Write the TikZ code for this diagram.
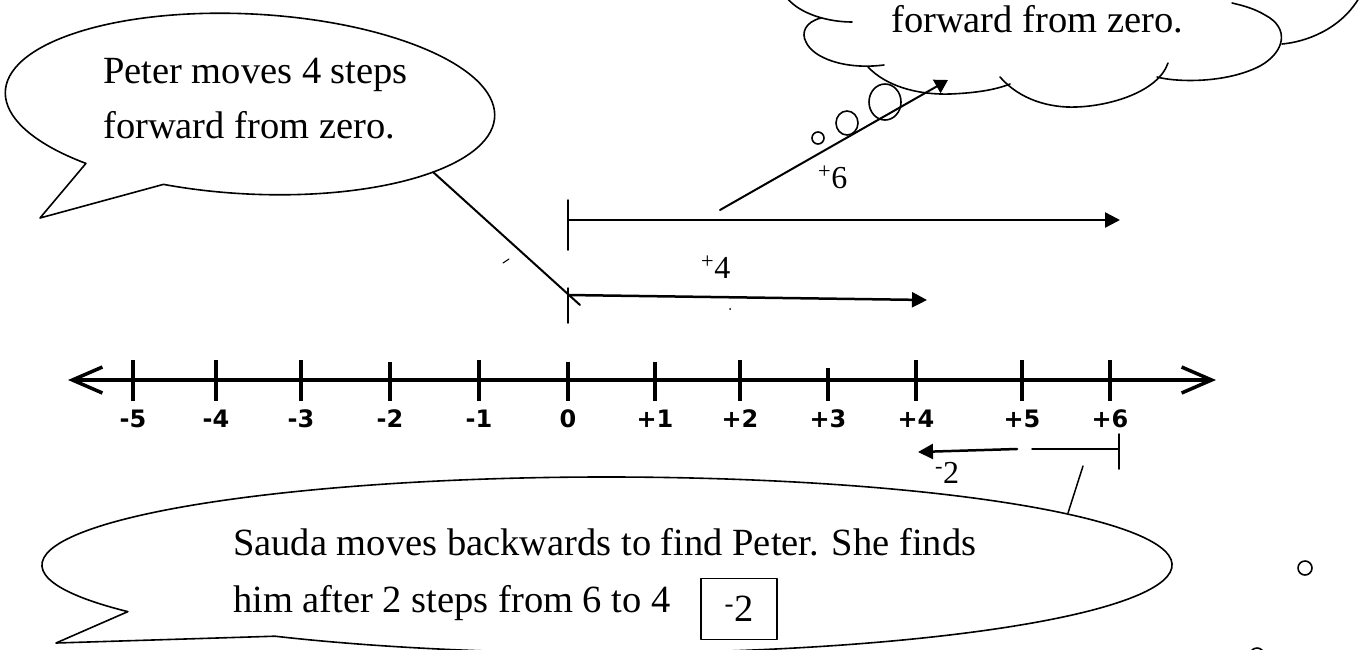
\documentclass[tikz,border=0pt]{standalone}
\usepackage{fontspec}
\setmainfont{Liberation Serif}
\newfontfamily\axisfont{DejaVu Sans}
\usetikzlibrary{arrows.meta}

\begin{document}
\begin{tikzpicture}[x=1pt, y=-1pt, line cap=round, line join=round,
  bubble/.style={line width=1.6pt},
  say/.style={inner sep=0pt, anchor=base west, font=\fontsize{38.5}{55}\selectfont},
  steplab/.style={inner sep=0pt, anchor=base west, font=\fontsize{32}{32}\selectfont},
  axlab/.style={inner sep=0pt, anchor=base, font=\axisfont\bfseries\fontsize{24}{24}\selectfont},
  jump/.style={line width=2.5pt, -{Triangle[length=15pt,width=15pt]}},
  leader/.style={line width=2pt}]
  \useasboundingbox (0,0) rectangle (1359,649);

  % Peter's speech bubble
  \coordinate (ptip) at (40,218);
  \begin{scope}[shift={(250,104)}, rotate=-3]
    \draw[bubble] (131:245 and 90) arc[start angle=131, end angle=469.6, x radius=245, y radius=90] -- (ptip) -- cycle;
  \end{scope}
  \node[say] (peter1) at (103,83) {Peter moves 4 steps};
  \node[say] (peter2) at (103,138) {forward from zero.};

  % cloud
  \draw[bubble] (787,-2) .. controls (800,14) and (828,22) .. (852,22);
  \draw[bubble] (821,18) .. controls (805,22) and (801,33) .. (806,42) .. controls (813,58) and (845,70) .. (884,65);
  \draw[bubble] (868,67) .. controls (885,85) and (915,95) .. (950,94) .. controls (975,93) and (995,90) .. (1010,84);
  \draw[bubble] (1000,77) .. controls (1020,100) and (1050,108) .. (1076,107) .. controls (1110,106) and (1158,92) .. (1168,63);
  \draw[bubble] (1157,77) .. controls (1175,82) and (1225,84) .. (1260,66) .. controls (1285,52) and (1290,28) .. (1265,15) .. controls (1255,9) and (1245,6) .. (1232,3);
  \draw[bubble] (1282,44) .. controls (1305,42) and (1340,30) .. (1359,-2);
  \node[say] (cloudtxt) at (891,32) {forward from zero.};
  \draw[bubble] (818,138) circle[radius=6];
  \draw[bubble] (847,123) ellipse[x radius=11, y radius=12];
  \draw[bubble] (885,102) ellipse[x radius=16, y radius=18];

  % +6 jump
  \coordinate (z6) at (568,220);
  \coordinate (e6) at (1120,220);
  \draw[line width=1.5pt] (568,200) -- (568,250);
  \draw[jump] (z6) -- (e6);
  \coordinate (c6a) at (720,210);
  \coordinate (c6b) at (948,80);
  \draw[leader, -{Triangle[length=13pt,width=15pt]}] (c6a) -- (c6b);
  \node[steplab] (lab6) at (818,188) {\textsuperscript{+}6};

  % +4 jump
  \coordinate (z4) at (568,295);
  \coordinate (e4) at (927,300);
  \draw[line width=1.5pt] (568,288) -- (568,323);
  \draw[jump] (z4) -- (e4);
  \node[steplab] (lab4) at (701,278) {\textsuperscript{+}4};
  \coordinate (p1) at (433,172);
  \coordinate (p2) at (580,305);
  \draw[leader] (p1) -- (p2);
  \draw[line width=1pt] (503,263) -- (509,259);
  \fill (730,309) circle[radius=1];

  % number line
  \draw[line width=3.5pt, {Straight Barb[length=30pt,width=26pt]}-{Straight Barb[length=30pt,width=26pt]}] (68,380) -- (1216,380);
  \foreach \x/\lab/\top [count=\i] in {133/-5/360, 216/-4/360, 301/-3/360, 390/-2/362, 479/-1/360, 568/0/362, 655/+1/362, 740/+2/360, 828/+3/368, 916/+4/360, 1022/+5/360, 1110/+6/360} {
    \draw[line width=4pt, line cap=butt] (\x,\top) -- (\x,401);
    \node[axlab] (n\i) at (\x,427) {\lab};
  }

  % -2 jump
  \coordinate (s6) at (1119,449);
  \coordinate (s5) at (1032,449);
  \coordinate (s4a) at (1017,449);
  \coordinate (s4) at (918,452);
  \draw[line width=1.5pt] (1119,434) -- (1119,469);
  \draw[line width=1.5pt] (s6) -- (s5);
  \draw[jump] (s4a) -- (s4);
  \node[steplab] (labm2) at (935,483) {\textsuperscript{-}2};

  % Sauda's speech bubble
  \draw[bubble] (607,565) ++(148:565 and 88) arc[start angle=148, end angle=486, x radius=565, y radius=88] -- (56,643) -- cycle;
  \coordinate (q1) at (1083,466);
  \coordinate (q2) at (1068,513);
  \draw[leader, line width=1.5pt] (q1) -- (q2);
  \node[say] (sauda1) at (233,555) {Sauda moves backwards to find Peter. She finds};
  \node[say] (sauda2) at (233,612) {him after 2 steps from 6 to 4};
  \node[draw, line width=1.3pt, minimum width=76pt, minimum height=61pt, inner sep=0pt, font=\fontsize{38.5}{40}\selectfont] (ans) at (739,609) {\textsuperscript{-}2};

  \draw[bubble] (1305,568) circle[radius=7];
  \draw[bubble] (1257,655) circle[radius=7];
\end{tikzpicture}
\end{document}
